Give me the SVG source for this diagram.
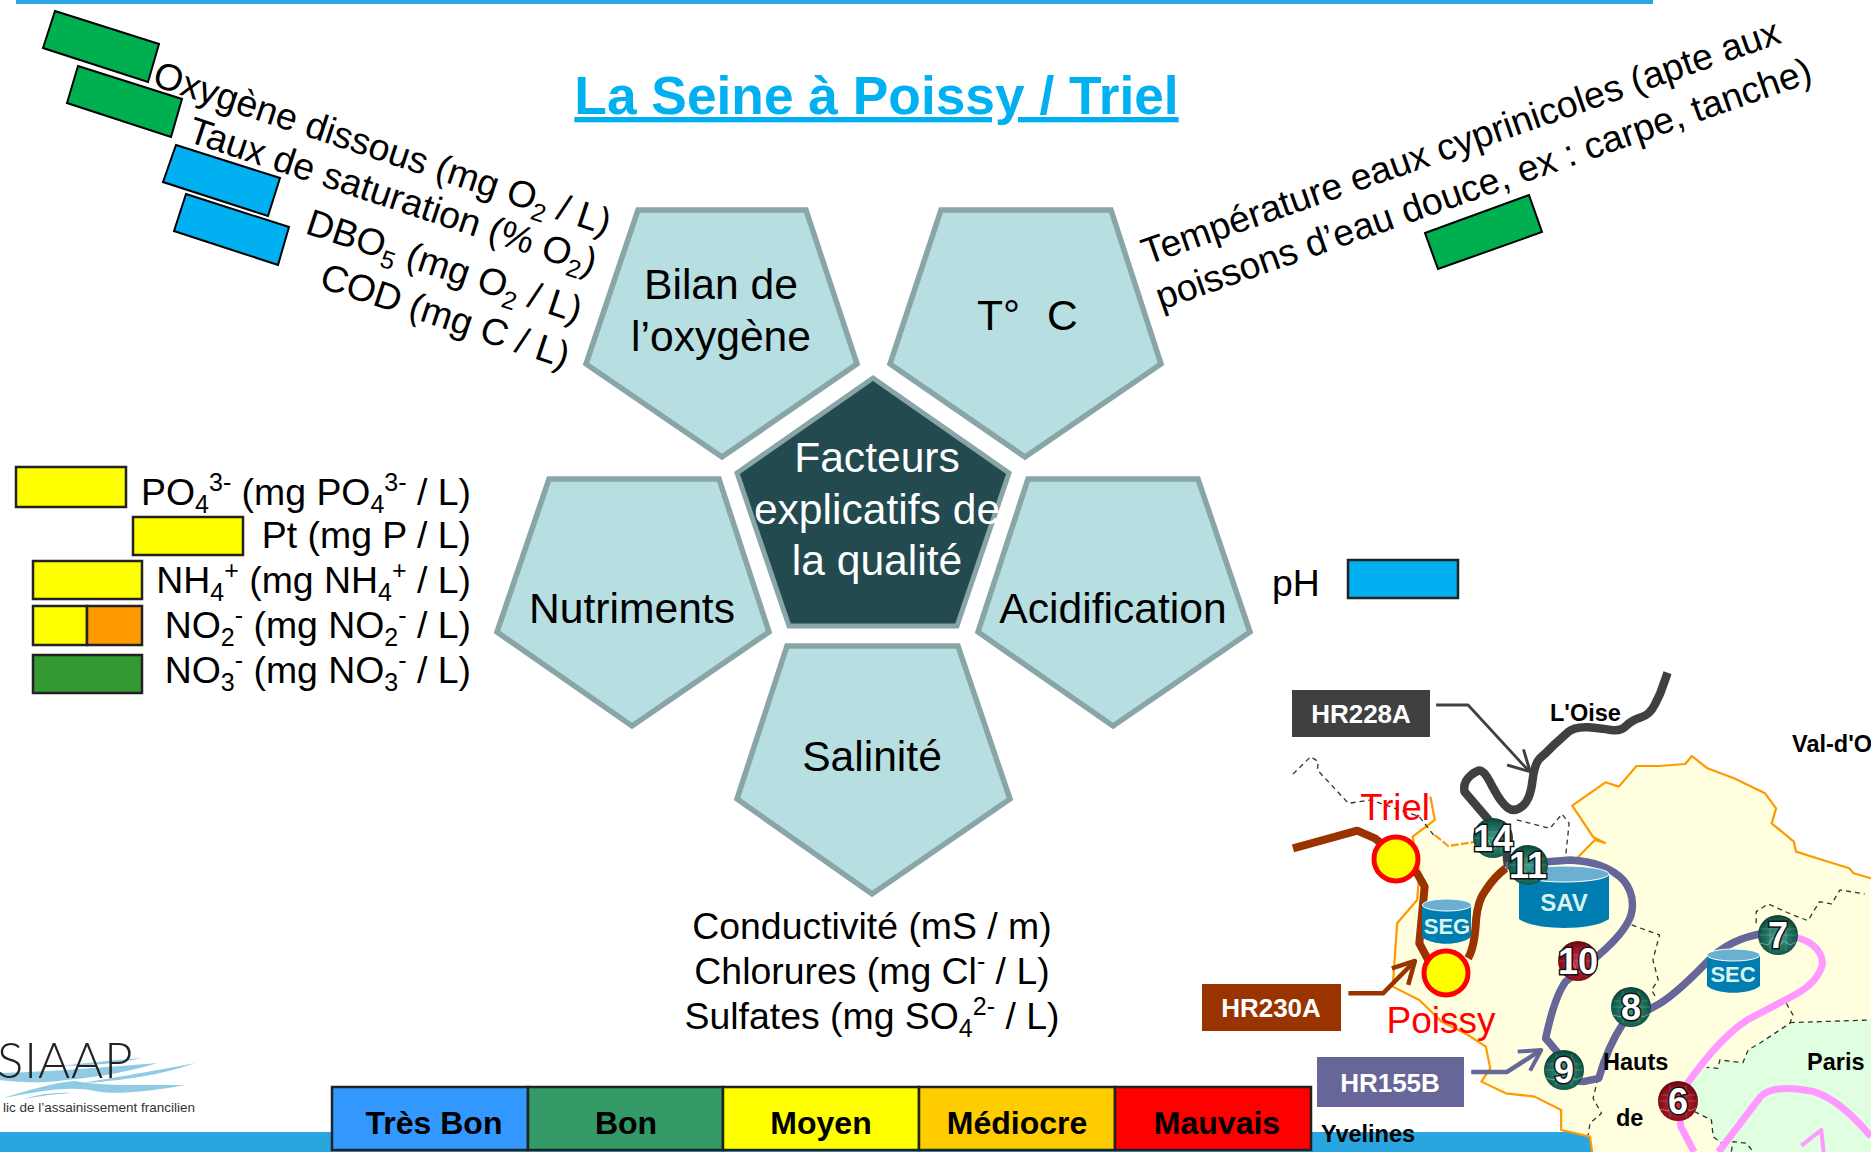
<svg xmlns="http://www.w3.org/2000/svg" width="1871" height="1152" viewBox="0 0 1871 1152">
<style>
text{font-family:"Liberation Sans",Arial,sans-serif;fill:#000}
.pent{fill:#B7DEE1;stroke:#89A5A8;stroke-width:5.500}
.lab{font-size:42.600px;text-anchor:middle}
.ind{font-size:37.400px}
.sb{font-size:25px}
.r{text-anchor:end}
.m{text-anchor:middle}
.box{stroke:#000;stroke-width:2}
.leg{stroke:#222;stroke-width:2.500}
.legt{font-size:32px;font-weight:bold;text-anchor:middle}
.hr{font-size:26px;font-weight:bold;fill:#fff;text-anchor:middle}
.map{font-size:23.500px;font-weight:bold}
.p{fill:none;stroke-linejoin:round;stroke-linecap:butt;vector-effect:non-scaling-stroke}
.wave{fill:#8FCBE4}
.cy{fill:#007DB0}.ct{fill:#6BAFD1;stroke:#fff;stroke-width:1}
.cyt{fill:#D8F3F0;font-weight:bold;text-anchor:middle}
.num{font-size:36px;font-weight:bold;text-anchor:middle;fill:#fff;stroke:#111;stroke-width:3;paint-order:stroke}
.site{fill:#FFFF00;stroke:#FF0000;stroke-width:5}
</style>
<defs>
<radialGradient id="gg" cx=".5" cy=".55" r=".6"><stop offset="0" stop-color="#3FA088"/><stop offset=".7" stop-color="#15604E"/><stop offset="1" stop-color="#08332A"/></radialGradient>
<radialGradient id="gr" cx=".5" cy=".55" r=".6"><stop offset="0" stop-color="#D8324A"/><stop offset=".7" stop-color="#8E0F1C"/><stop offset="1" stop-color="#4E0710"/></radialGradient>
<g id="pulse" fill="none" stroke="#fff" stroke-opacity=".4" stroke-width="1"><polyline points="-18,8 -10,10 -5,2 0,12 6,6 12,10 18,7"/><path d="M-17,-6H17M-19,0H19M-8,-16V16M8,-16V16" stroke-opacity=".2"/></g>
<clipPath id="mc"><rect x="0" y="0" width="1559" height="1476"/></clipPath>
</defs>
<rect width="1871" height="1152" fill="#fff"/>
<rect x="16" y="0" width="1637" height="4" fill="#29A6E0"/>
<rect x="0" y="1132" width="1871" height="20" fill="#29A6E0"/>
<text x="876.500" y="114" font-size="53.300" font-weight="bold" text-anchor="middle" style="fill:#00B0F0" text-decoration="underline">La Seine à Poissy / Triel</text>

<g id="map-background" transform="translate(1180,660) scale(.4432,.3333)" clip-path="url(#mc)">
<path fill="#FFFFE0" d="M885,437L960,367L990,380L1030,318L1080,318L1140,312L1155,288L1190,325L1250,355L1320,400L1345,445L1335,490L1385,545L1390,575L1450,600L1510,625L1520,640L1559,655V1476H930L925,1430L860,1410L860,1350L800,1310L735,1300L680,1265L700,1225L690,1160L650,1125L590,1085L540,1020L480,980L490,790L535,720L540,640L525,530L575,480L575,540L605,560L670,545L760,590H896L936,540L959,549L932,531Z"/>
<path fill="#E0FFE0" d="M1559,1080L1380,1088L1308,1150L1282,1170L1270,1208L1218,1200L1214,1225L1188,1222L1150,1260L1161,1355L1199,1380L1203,1430L1222,1450L1210,1476H1559Z"/>
<g stroke="#FF9900" stroke-width="2.200">
<path class="p" d="M896,594L936,540L959,549L932,531L885,437L960,367L990,380L1030,318L1080,318L1140,312L1155,288L1190,325L1250,355L1320,400L1345,445L1335,490L1385,545L1390,575L1450,600L1510,625L1520,640L1559,655"/>
<path class="p" d="M930,1476L925,1430L860,1410L860,1350L800,1310L735,1300L680,1265L700,1225L690,1160L650,1125L590,1085L540,1020L480,980L490,790L535,720L540,640L525,530L575,480L565,410"/>
<path class="p" d="M575,525L605,558L670,545" stroke-dasharray="8 2"/>
</g>
<g stroke="#333" stroke-width="1.300" stroke-dasharray="5 4">
<path class="p" d="M255,342L295,290L312,305L310,330L380,430L430,420L540,470L575,530"/>
<path class="p" d="M760,480L835,505L862,462L878,490L870,590"/>
<path class="p" d="M1300,790L1300,755L1327,732L1383,765L1417,782L1443,725L1470,732L1489,690L1545,702"/>
<path class="p" d="M1019,795L1082,825L1067,900L1079,960L1064,990L1075,1015"/>
<path class="p" d="M1368,1030L1383,1065L1376,1090L1308,1150L1282,1170L1270,1208L1218,1200L1214,1225L1188,1222"/>
<path class="p" d="M1376,1088L1559,1080"/>
<path class="p" d="M943,1255L932,1315L951,1360L925,1390L921,1425"/>
<path class="p" d="M1161,1355L1199,1380L1203,1430L1222,1450"/>
<path class="p" d="M1244,1475L1248,1445L1278,1450L1293,1475"/>
</g>
</g>

<g id="connectors">
<g transform="translate(1180,660) scale(.4432,.3333)" clip-path="url(#mc)">
<path class="p" stroke="#404040" stroke-width="8.500" d="M1100,38L1092,69Q1085,100 1072,132Q1060,165 1040,172Q1020,180 1007,197Q995,215 972,210Q950,205 920,202Q890,200 875,217Q860,235 842,257Q825,280 812,295Q800,310 795,365Q790,420 772,439Q755,458 740,444Q725,430 707,385Q690,340 682,335Q675,325 657,345Q638,365 642,395L700,485L735,560L740,620"/>
<path class="p" stroke="#666699" stroke-width="7.500" d="M735,618L830,605L880,600Q960,605 1000,660Q1025,700 1020,750Q1015,805 945,885L870,965Q845,1010 825,1135L860,1190L870,1260L910,1265L945,1255Q965,1160 1000,1090L1070,1040Q1110,1015 1190,905Q1240,835 1320,820"/>
<path class="p" stroke="#993300" stroke-width="8" d="M255,565L400,512L440,535L490,590L535,640L552,680L540,850L560,900"/>
<path class="p" stroke="#993300" stroke-width="8" d="M650,895Q665,860 668,780Q672,720 690,690Q710,650 735,625"/>
<path class="p" stroke="#FF99FF" stroke-width="7" d="M1380,830Q1445,845 1450,910Q1440,970 1380,1010L1280,1080Q1220,1130 1145,1270Q1125,1330 1130,1400L1160,1476"/>
<path class="p" stroke="#FF99FF" stroke-width="7" d="M1215,1476L1310,1310Q1340,1270 1430,1295Q1490,1320 1559,1430"/>
<path class="p" stroke="#FF99FF" stroke-width="4" d="M1402,1457L1447,1410L1452,1476"/>
<path class="p" stroke="#404040" stroke-width="2.800" d="M578,135H650L785,330"/>
<path class="p" stroke="#404040" stroke-width="3" d="M775,268L790,335L738,315"/>
<path class="p" stroke="#993300" stroke-width="4.500" d="M380,1000H458L530,903"/>
<path class="p" stroke="#993300" stroke-width="4.500" d="M478,925L530,903L515,975"/>
<path class="p" stroke="#666699" stroke-width="4.500" d="M657,1236H738L815,1170"/>
<path class="p" stroke="#666699" stroke-width="4" d="M762,1175L815,1170L790,1232"/>
</g>
</g>

<g id="node-center"><polygon points="873,378 1009,473 957,626 789,626 737,473" fill="#224A4F" stroke="#89A5A8" stroke-width="5"/>
<text class="lab" x="877" y="472" style="fill:#fff">Facteurs</text><text class="lab" x="877" y="524" style="fill:#fff">explicatifs de</text><text class="lab" x="877" y="575" style="fill:#fff">la qualité</text></g>
<g id="node-oxygene"><polygon class="pent" points="638,210 806,210 857,364 722,457 586,364"/><text class="lab" x="721" y="299">Bilan de</text><text class="lab" x="721" y="351">l’oxygène</text></g>
<g id="node-temperature"><polygon class="pent" points="941,210 1111,210 1161,364 1025,457 890,364"/><text class="lab" x="977" y="330" style="text-anchor:start">T°<tspan dx="27">C</tspan></text></g>
<g id="node-nutriments"><polygon class="pent" points="549,479 719,479 769,632 632,726 497,632"/><text class="lab" x="632" y="623">Nutriments</text></g>
<g id="node-acidification"><polygon class="pent" points="1028,479 1198,479 1250,632 1113,726 978,632"/><text class="lab" x="1113" y="623">Acidification</text></g>
<g id="node-salinite"><polygon class="pent" points="787,646 958,646 1010,799 872,894 737,799"/><text class="lab" x="872" y="771">Salinité</text></g>

<g id="oxygene-indicators">
<polygon class="box" fill="#00B050" points="55,11 159,44 148,82 43,48"/>
<polygon class="box" fill="#00B050" points="78,66 182,99 171,137 67,103"/>
<polygon class="box" fill="#00B0F0" points="176,145 280,178 268,216 163,182"/>
<polygon class="box" fill="#00B0F0" points="186,194 289,227 278,265 174,231"/>
<text class="ind" transform="translate(151,85) rotate(18.300)">Oxygène dissous (mg O<tspan class="sb" dy="8">2</tspan><tspan dy="-8"> / L)</tspan></text>
<text class="ind" transform="translate(186,141) rotate(18.300)">Taux de saturation (% O<tspan class="sb" dy="8">2</tspan><tspan dy="-8">)</tspan></text>
<text class="ind" transform="translate(304,233) rotate(18.300)">DBO<tspan class="sb" dy="8">5</tspan><tspan dy="-8"> (mg O</tspan><tspan class="sb" dy="8">2</tspan><tspan dy="-8"> / L)</tspan></text>
<text class="ind" transform="translate(318,287) rotate(18.300)">COD (mg C / L)</text>
</g>
<g id="temperature-indicators">
<text class="ind" transform="translate(1147,265) rotate(-19.300)">Température eaux cyprinicoles (apte aux</text>
<text class="ind" transform="translate(1161,310) rotate(-19.300)">poissons d’eau douce, ex : carpe, tanche)</text>
<polygon class="box" fill="#00B050" points="1425,233 1529,195 1542,232 1438,269"/>
</g>
<g id="nutriment-indicators">
<rect class="leg" x="16" y="467" width="110" height="40" fill="#FFFF00"/>
<rect class="leg" x="133" y="517" width="110" height="38" fill="#FFFF00"/>
<rect class="leg" x="33" y="561" width="109" height="38" fill="#FFFF00"/>
<rect class="leg" x="33" y="606" width="54" height="39" fill="#FFFF00"/>
<rect class="leg" x="87" y="606" width="55" height="39" fill="#FF9900"/>
<rect class="leg" x="33" y="655" width="109" height="38" fill="#339933"/>
<text class="ind r" x="471" y="505">PO<tspan class="sb" dy="8">4</tspan><tspan class="sb" dy="-22">3-</tspan><tspan dy="14"> (mg PO</tspan><tspan class="sb" dy="8">4</tspan><tspan class="sb" dy="-22">3-</tspan><tspan dy="14"> / L)</tspan></text>
<text class="ind r" x="471" y="548">Pt (mg P / L)</text>
<text class="ind r" x="471" y="593">NH<tspan class="sb" dy="8">4</tspan><tspan class="sb" dy="-22">+</tspan><tspan dy="14"> (mg NH</tspan><tspan class="sb" dy="8">4</tspan><tspan class="sb" dy="-22">+</tspan><tspan dy="14"> / L)</tspan></text>
<text class="ind r" x="471" y="638">NO<tspan class="sb" dy="8">2</tspan><tspan class="sb" dy="-22">-</tspan><tspan dy="14"> (mg NO</tspan><tspan class="sb" dy="8">2</tspan><tspan class="sb" dy="-22">-</tspan><tspan dy="14"> / L)</tspan></text>
<text class="ind r" x="471" y="683">NO<tspan class="sb" dy="8">3</tspan><tspan class="sb" dy="-22">-</tspan><tspan dy="14"> (mg NO</tspan><tspan class="sb" dy="8">3</tspan><tspan class="sb" dy="-22">-</tspan><tspan dy="14"> / L)</tspan></text>
</g>
<g id="ph-indicator"><text class="ind" x="1272" y="596">pH</text><rect class="leg" x="1348" y="560" width="110" height="38" fill="#00B0F0"/></g>
<g id="salinite-indicators">
<text class="ind m" x="872" y="939">Conductivité (mS / m)</text>
<text class="ind m" x="872" y="984">Chlorures (mg Cl<tspan class="sb" dy="-14">-</tspan><tspan dy="14"> / L)</tspan></text>
<text class="ind m" x="872" y="1029">Sulfates (mg SO<tspan class="sb" dy="8">4</tspan><tspan class="sb" dy="-22">2-</tspan><tspan dy="14"> / L)</tspan></text>
</g>

<g id="logo">
<path class="wave" d="M0,1073C40,1072 100,1068 157,1063C130,1072 90,1078 67,1080C40,1084 15,1082 0,1080Z"/>
<path class="wave" d="M60,1066C85,1063 115,1060 142,1058C120,1063 90,1066 60,1066Z"/>
<path class="wave" d="M195,1063C170,1072 135,1080 83,1083C110,1078 150,1072 195,1063Z"/>
<path class="wave" d="M3,1098C30,1090 55,1082 75,1081C100,1086 140,1085 185,1085C150,1092 110,1095 95,1091C70,1085 35,1092 3,1098Z"/>
<path class="wave" d="M23,1099C40,1094 55,1092 72,1093C55,1094 40,1096 23,1099Z"/>
<text x="-3" y="1078" font-size="49" letter-spacing="1" style="font-family:Lato,sans-serif;font-weight:300;fill:#222">SIAAP</text>
<text x="195" y="1112" font-size="13.500" text-anchor="end" style="fill:#333">lic de l’assainissement francilien</text>
</g>

<g id="quality-legend">
<rect class="leg" x="332" y="1087" width="196" height="63" fill="#3399FF"/>
<rect class="leg" x="528" y="1087" width="195" height="63" fill="#339966"/>
<rect class="leg" x="723" y="1087" width="196" height="63" fill="#FFFF00"/>
<rect class="leg" x="919" y="1087" width="196" height="63" fill="#FFCC00"/>
<rect class="leg" x="1115" y="1087" width="196" height="63" fill="#FF0000"/>
<text class="legt" x="434" y="1134">Très Bon</text><text class="legt" x="626" y="1134">Bon</text><text class="legt" x="821" y="1134">Moyen</text><text class="legt" x="1017" y="1134">Médiocre</text><text class="legt" x="1217" y="1134">Mauvais</text>
</g>

<g id="map-labels">
<text class="map" x="1550" y="721">L'Oise</text><text class="map" x="1792" y="752">Val-d'O</text><text class="map" x="1603" y="1070">Hauts</text><text class="map" x="1616" y="1126">de</text><text class="map" x="1807" y="1070">Paris</text><text class="map" x="1321" y="1142">Yvelines</text>
</g>
<g id="HR228A"><rect x="1292" y="690" width="138" height="47" fill="#404040"/><text class="hr" x="1361" y="723">HR228A</text></g>
<g id="HR230A"><rect x="1202" y="984" width="139" height="47" fill="#993300"/><text class="hr" x="1271" y="1017">HR230A</text></g>
<g id="HR155B"><rect x="1317" y="1057" width="147" height="50" fill="#666699"/><text class="hr" x="1390" y="1092">HR155B</text></g>

<g id="SAV"><path class="cy" d="M1519,874V919C1535,931 1593,931 1609,919V874Z"/><ellipse class="ct" cx="1564" cy="874" rx="45" ry="8"/><text class="cyt" x="1564" y="911" font-size="24">SAV</text></g>
<g id="SEG"><path class="cy" d="M1422,905V937C1432,946 1461,946 1471,937V905Z"/><ellipse class="ct" cx="1447" cy="905" rx="24.500" ry="6"/><text class="cyt" x="1447" y="934" font-size="22">SEG</text></g>
<g id="SEC"><path class="cy" d="M1707,955V986C1717,995 1750,995 1760,986V955Z"/><ellipse class="ct" cx="1733.500" cy="955" rx="26.500" ry="6"/><text class="cyt" x="1733" y="982" font-size="22">SEC</text></g>

<g id="site-triel"><circle class="site" cx="1396" cy="859" r="22"/><text x="1395" y="820" font-size="36.500" text-anchor="middle" style="fill:#FF0000">Triel</text></g>
<g id="site-poissy"><circle class="site" cx="1446" cy="973" r="22"/><text x="1441" y="1033" font-size="37" text-anchor="middle" style="fill:#FF0000">Poissy</text></g>

<g id="station-14" transform="translate(1493,838)"><circle r="20" fill="url(#gg)"/><use href="#pulse"/><text class="num" y="13">14</text></g>
<g id="station-11" transform="translate(1528,865)"><circle r="20" fill="url(#gg)"/><use href="#pulse"/><text class="num" y="13">11</text></g>
<g id="station-10" transform="translate(1578,961)"><circle r="20" fill="url(#gr)"/><use href="#pulse"/><text class="num" y="13">10</text></g>
<g id="station-9" transform="translate(1564,1070)"><circle r="20" fill="url(#gg)"/><use href="#pulse"/><text class="num" y="13">9</text></g>
<g id="station-8" transform="translate(1631,1007)"><circle r="20" fill="url(#gg)"/><use href="#pulse"/><text class="num" y="13">8</text></g>
<g id="station-7" transform="translate(1778,935)"><circle r="20" fill="url(#gg)"/><use href="#pulse"/><text class="num" y="13">7</text></g>
<g id="station-6" transform="translate(1678,1101)"><circle r="20" fill="url(#gr)"/><use href="#pulse"/><text class="num" y="13">6</text></g>
</svg>
